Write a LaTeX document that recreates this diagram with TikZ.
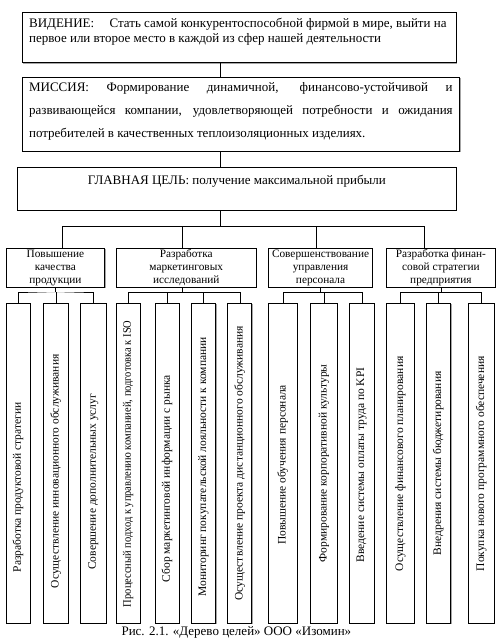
\documentclass[tikz,border=0pt]{standalone}
\usepackage{fontspec}
\setmainfont{Liberation Serif}
\usetikzlibrary{shadows}
\newcommand{\boxtxt}[4]{\parbox[c][#1][t]{#2}{\hyphenpenalty=10000\exhyphenpenalty=10000\vspace*{#3}\rule{0pt}{10pt}#4}}
\tikzset{
  frame/.style={draw, line width=0.8pt, fill=white,
    drop shadow={shadow xshift=1pt, shadow yshift=-1pt, fill=gray!70, opacity=1}},
  topbox/.style={frame, anchor=north west, inner xsep=7pt, inner ysep=0pt,
    font=\fontsize{13}{15}\selectfont},
  subbox/.style={frame, anchor=north west, inner sep=1pt, minimum height=39pt,
    align=center, font=\fontsize{11.3}{13}\selectfont},
  leaf/.style={frame, rotate=90, minimum width=320pt, inner sep=0pt,
    font=\fontsize{11.5}{13}\selectfont},
}
\begin{document}
\begin{tikzpicture}[x=1pt, y=-1pt]
\useasboundingbox (0,0) rectangle (498,639);
% top of the tree
\node[topbox] (vision) at (21.7,11.7) {\boxtxt{50.6pt}{420pt}{5.6pt}{ВИДЕНИЕ:\hspace{12pt} Стать самой конкурентоспособной фирмой в мире, выйти на\\первое или второе место в каждой из сфер нашей деятельности}};
\node[topbox, font=\fontsize{13}{22.7}\selectfont] (mission) at (21.7,76.7) {\boxtxt{74pt}{423.6pt}{4.6pt}{МИССИЯ: Формирование динамичной, финансово-устойчивой и\linebreak развивающейся компании, удовлетворяющей потребности и ожидания\linebreak потребителей в качественных теплоизоляционных изделиях.}};
\node[topbox] (goal) at (17.3,167.3) {\boxtxt{42.7pt}{424.4pt}{6.7pt}{\centering ГЛАВНАЯ ЦЕЛЬ: получение максимальной прибыли}};
\coordinate (spine) at (220,0);
\draw (vision.south -| spine) -- (mission.north -| spine);
\draw (mission.south -| spine) -- (goal.north -| spine);
\draw (goal.south -| spine) -- ++(0,15.7) coordinate (gbus);
% subgoals
\node[subbox, minimum width=98.6pt] (s1) at (5.7,247.7) {Повышение\\качества\\продукции};
\node[subbox, minimum width=140.3pt] (s2) at (115.7,247.7) {Разработка\\маркетинговых\\исследований};
\node[subbox, minimum width=103.7pt] (s3) at (268.3,247.7) {Совершенствование\\управления\\персонала};
\node[subbox, minimum width=108.5pt] (s4) at (386.3,247.7) {Разработка финан-\\совой стратегии\\предприятия};
\draw (s1.north -| 62,0) |- (gbus) -| (s4.north -| 424.3,0);
\draw (s2.north -| 182.3,0) -- (182.3,0 |- gbus);
\draw (s3.north -| 315.7,0) -- (315.7,0 |- gbus);
% tasks
\foreach \n/\x/\w/\s/\t in {
  l1/18/24/48/{Разработка продуктовой стратегии},
  l2/55.8/25/16/{Осуществление инновационного обслуживания},
  l3/93.3/25.3/37/{Совершение дополнительных услуг},
  l4/128.3/23.3/1/{\scalebox{0.91}[1]{Процессный подход к управлению компанией, подготовка к ISO}},
  l5/167/24/31/{Сбор маркетинговой информации с рынка},
  l6/203.5/24/7/{Мониторинг покупательской лояльности к компании},
  l7/239.7/24/0/{Осуществление проекта дистанционного обслуживания},
  l8/282.8/29/3/{Повышение обучения персонала},
  l9/324/26.6/0/{Формирование корпоративной культуры},
  l10/361.7/25.3/3/{Введение системы оплаты труда по KPI},
  l11/400.3/27.3/1/{Осуществление финансового планирования},
  l12/438.3/24.7/0/{Внедрения системы бюджетирования},
  l13/481.3/25.3/1/{Покупка нового программного обеспечения}}
  \node[leaf, minimum height=\w pt] (\n) at (\x,463.3) {\t\hspace*{\s pt}};
\draw (s1.south) -- ++(0,4.3) coordinate (b1);
\draw (l1.east) |- (b1) -| (l3.east);
\draw (l2.east) -- (l2.east |- b1);
\draw (s2.south -| 182,0) -- ++(0,5) coordinate (b2);
\draw (l4.east) |- (b2) -| (l7.east);
\draw (l5.east) -- (l5.east |- b2);
\draw (l6.east) -- (l6.east |- b2);
\draw (s3.south) -- ++(0,5) coordinate (b3);
\draw (l8.east) |- (b3) -| (l10.east);
\draw (l9.east) -- (l9.east |- b3);
\draw (s4.south) -- ++(0,5) coordinate (b4);
\draw (l11.east) |- (b4) -| (l13.east);
\draw (l12.east) -- (l12.east |- b4);
\node[font=\fontsize{13}{15}\selectfont, anchor=base west] (caption) at (118,635) {Рис. 2.1. «Дерево целей» ООО «Изомин»};
\end{tikzpicture}
\end{document}
